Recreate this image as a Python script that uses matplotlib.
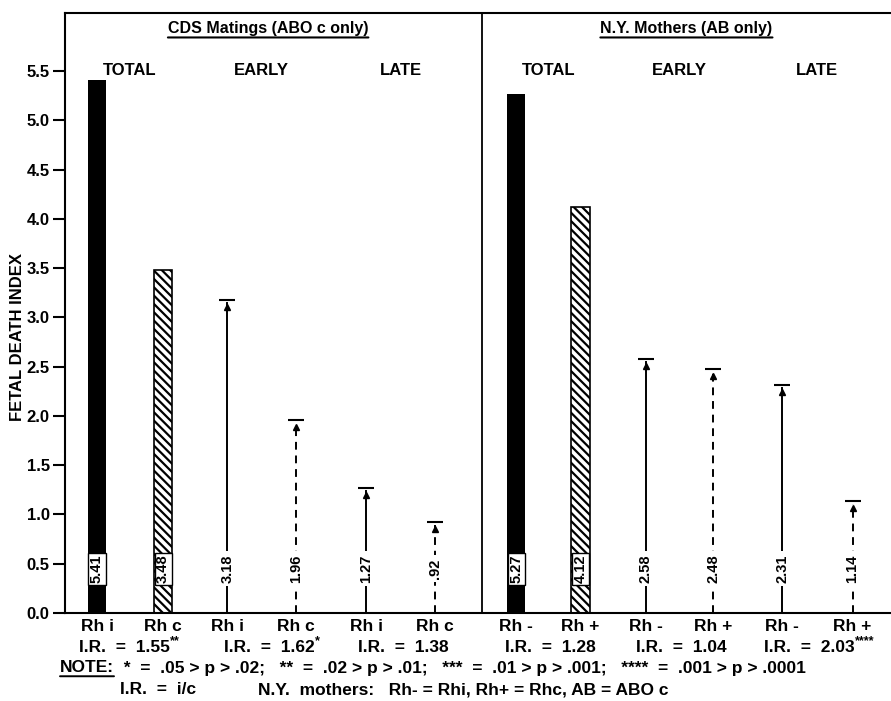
import numpy as np
import matplotlib
matplotlib.use("Agg")
import matplotlib.pyplot as plt

plt.rcParams['font.family'] = ['Liberation Sans', 'DejaVu Sans']
plt.rcParams['font.weight'] = 'bold'
plt.rcParams['hatch.linewidth'] = 1.6

# data
cds_labels = ["Rh i", "Rh c", "Rh i", "Rh c", "Rh i", "Rh c"]
ny_labels = ["Rh -", "Rh +", "Rh -", "Rh +", "Rh -", "Rh +"]
cds_values = [5.41, 3.48, 3.18, 1.96, 1.27, 0.92]
ny_values = [5.27, 4.12, 2.58, 2.48, 2.31, 1.14]
cds_text = ["5.41", "3.48", "3.18", "1.96", "1.27", ".92"]
ny_text = ["5.27", "4.12", "2.58", "2.48", "2.31", "1.14"]
ir_values = ["1.55", "1.62", "1.38", "1.28", "1.04", "2.03"]
ir_stars = ["**", "*", "", "", "", "****"]
periods = ["TOTAL", "EARLY", "LATE"]
headers = ["CDS Matings (ABO c only)", "N.Y. Mothers (AB only)"]
yticks = np.arange(0, 5.51, 0.5)

# layout (slot positions along x)
pos = [0, 0.98, 1.93, 2.95, 3.99, 5.01, 6.21, 7.16, 8.13, 9.13, 10.15, 11.19]
ir_pos = [0.40, 2.55, 4.53, 6.72, 8.66, 10.55]
divider = 5.70
values = cds_values + ny_values
texts = cds_text + ny_text
labels = cds_labels + ny_labels

fig = plt.figure(figsize=(8.91, 7.01), dpi=100)
ax = fig.add_axes([65 / 891, 1 - 613 / 701, 1 - 65 / 891, 600 / 701])
ax.set_xlim(-0.474, 11.76)
ax.set_ylim(0, 6.09)

for i, (x, v, t) in enumerate(zip(pos, values, texts)):
    period = (i % 6) // 2
    hatched = i % 2 == 1
    if period == 0:
        # TOTAL -> bars
        if hatched:
            ax.bar(x, v, width=0.27, facecolor='white', edgecolor='black',
                   hatch='\\\\\\\\', lw=1.2)
        else:
            ax.bar(x, v, width=0.27, color='black')
        ax.text(x, 0.45, t, rotation=90, ha='center', va='center', fontsize=10.5,
                bbox=dict(facecolor='white', edgecolor='black', pad=1.2, lw=1.0))
    else:
        ls = (0, (4, 3)) if hatched else '-'
        ax.plot([x, x], [0, v - 0.03], color='black', lw=1.4, ls=ls)
        ax.plot([x], [v - 0.07], marker='^', ms=5, color='black')
        ax.plot([x], [v], marker='_', ms=12, mew=1.5, color='black')
        ax.text(x, 0.45, t, rotation=90, ha='center', va='center', fontsize=10.5,
                bbox=dict(facecolor='white', edgecolor='none', pad=2.5))

ax.axvline(divider, color='black', lw=1.3)

# period headers and titles
for g in range(2):
    for p, name in enumerate(periods):
        xm = (pos[g * 6 + 2 * p] + pos[g * 6 + 2 * p + 1]) / 2
        ax.text(xm, 5.51, name, ha='center', va='center', fontsize=12)
    xm = (pos[g * 6] + pos[g * 6 + 5]) / 2
    ht = ax.text(xm + 0.03, 5.93, headers[g], ha='center', va='center', fontsize=11.5)
    ax.annotate('', xy=(0, -0.08), xycoords=ht, xytext=(1, -0.08), textcoords=ht,
                arrowprops=dict(arrowstyle='-', lw=1.5, shrinkA=0, shrinkB=0))

# axes styling
ax.spines['right'].set_visible(False)
for s in ['left', 'top', 'bottom']:
    ax.spines[s].set_linewidth(1.5)
ax.set_yticks(yticks)
ax.set_yticklabels([f"{v:.1f}" for v in yticks], fontsize=12)
ax.tick_params(axis='y', length=9, width=1.5, pad=2)
ax.set_xticks(pos)
ax.set_xticklabels(labels, fontsize=12.5)
ax.tick_params(axis='x', length=0, pad=4)

fig.text(18 / 891, 1 - 337 / 701, "FETAL DEATH INDEX", rotation=90,
         ha='center', va='center', fontsize=12)

# I.R. line under the tick labels
for x, v, st in zip(ir_pos, ir_values, ir_stars):
    t = ax.text(x, 0, "I.R.  =  " + v, ha='center', va='center', fontsize=12.5,
                transform=ax.get_xaxis_transform())
    t.set_y(-(648 - 613) / 600)
    if st:
        ax.annotate(st, xy=(1, 0.95), xycoords=t, ha='left', va='center', fontsize=9)

# notes
nt = fig.text(60 / 891, 1 - 668 / 701, "NOTE:", ha='left', va='center', fontsize=12.5)
ax.annotate('', xy=(0, -0.05), xycoords=nt, xytext=(1, -0.05), textcoords=nt,
            arrowprops=dict(arrowstyle='-', lw=1.4, shrinkA=0, shrinkB=0))
ax.annotate("  *  =  .05 > p > .02;   **  =  .02 > p > .01;   ***  =  .01 > p > .001;   ****  =  .001 > p > .0001",
            xy=(1, 0.5), xycoords=nt, ha='left', va='center', fontsize=12.5)
fig.text(120 / 891, 1 - 690 / 701, "I.R.  =  i/c", ha='left', va='center', fontsize=12.5)
fig.text(258 / 891, 1 - 690 / 701, "N.Y.  mothers:   Rh- = Rhi, Rh+ = Rhc, AB = ABO c",
         ha='left', va='center', fontsize=12.5)

fig.savefig("out.png", dpi=100)
